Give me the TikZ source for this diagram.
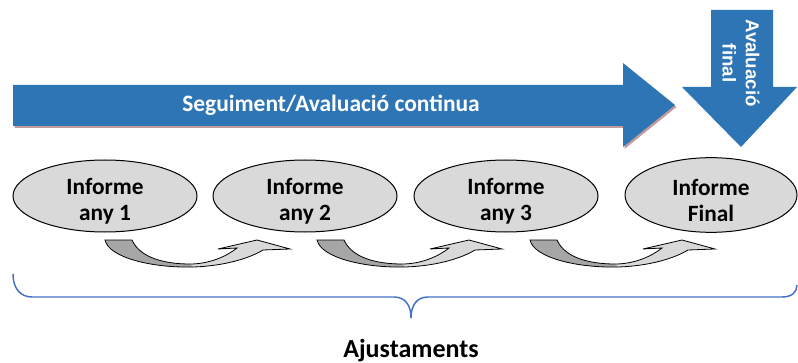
\documentclass[tikz,border=0pt]{standalone}
\usepackage{fontspec}
\setmainfont{Carlito}
\newfontfamily\arialfont{Liberation Sans}
\usetikzlibrary{shapes.geometric}

\definecolor{arrowblue}{HTML}{2E75B6}
\definecolor{shadowpink}{HTML}{C49A9A}
\definecolor{bracecol}{HTML}{4472C4}
\definecolor{ovalgray}{HTML}{D9D9D9}
\definecolor{bandgray}{HTML}{A6A6A6}

\begin{document}
\begin{tikzpicture}[x=0.75pt,y=-0.75pt]
	\tikzstyle{informe}=[ellipse, draw=black, line width=0.75pt, fill=ovalgray,
		minimum width=138pt, minimum height=54pt, inner sep=0pt]
	\tikzstyle{informetext}=[align=center, font=\bfseries\fontsize{17.5pt}{20pt}\selectfont]
	\tikzstyle{band}=[draw=black, line width=0.6pt]
	
	\useasboundingbox (0,0) rectangle (798,363);
	
	% big arrow with its shadow
	\fill[shadowpink] (14.5,87) -- (624.5,87) -- (624.5,65) -- (676.5,107) -- (624.5,149)
		-- (624.5,128) -- (14.5,128) -- cycle;
	\fill[arrowblue] (13,85) -- (623,85) -- (623,63) -- (675,105) -- (623,147)
		-- (623,126) -- (13,126) -- cycle;
	\node[text=white, font=\bfseries\fontsize{17.6pt}{20pt}\selectfont] (seg) at (331,105)
		{Seguiment/Avaluació continua};
	
	% final arrow
	\fill[arrowblue] (711,10) -- (773,10) -- (773,87) -- (797,87) -- (741,147)
		-- (682,87) -- (711,87) -- cycle;
	\node[text=white, rotate=-90, align=center,
		font=\arialfont\bfseries\fontsize{14pt}{17.5pt}\selectfont] (fin) at (741,63)
		{Avaluació\\final};
	
	% reports
	\node[informe] (i1) at (105,196) {};
	\node[informe] (i2) at (305,196) {};
	\node[informe] (i3) at (506,196) {};
	\node[informe, minimum width=129pt, minimum height=56pt] (i4) at (711,195) {};
	\node[informetext] (t1) at ([yshift=-4pt]i1.center) {Informe\\any 1};
	\node[informetext] (t2) at ([yshift=-4pt]i2.center) {Informe\\any 2};
	\node[informetext] (t3) at ([yshift=-4pt]i3.center) {Informe\\any 3};
	\node[informetext] (t4) at ([yshift=-4pt]i4.center) {Informe\\Final};
	
	% curved arrows
	\foreach \x in {105,317,530} {
		\begin{scope}[shift={(\x,240)}]
			\fill[ovalgray] (88,27) .. controls (120,26) and (145,18) .. (158,10) -- (185,9)
				-- (152,0) -- (113,9) -- (132,8) .. controls (122,16) and (105,24) .. (85,24) -- cycle;
			\fill[bandgray] (0,0) .. controls (4,18) and (48,28) .. (88,27) -- (85,24)
				.. controls (60,24) and (35,18) .. (27,0) -- cycle;
			\draw[band] (0,0) .. controls (4,18) and (48,28) .. (88,27)
				.. controls (120,26) and (145,18) .. (158,10) -- (185,9) -- (152,0) -- (113,9)
				-- (132,8) .. controls (122,16) and (105,24) .. (85,24)
				.. controls (60,24) and (35,18) .. (27,0) -- cycle;
		\end{scope}
	}
	
	% brace
	\draw[bracecol, line width=1.1pt] (13,274) .. controls (13,288) and (20,297) .. (32,297)
		-- (394,297) .. controls (405,297) and (411,305) .. (411,318)
		.. controls (411,305) and (417,297) .. (428,297) -- (782,297)
		.. controls (792,297) and (797,292) .. (797,285);
	\node[font=\bfseries\fontsize{19.5pt}{22pt}\selectfont] (aj) at (411,351) {Ajustaments};
\end{tikzpicture}
\end{document}
